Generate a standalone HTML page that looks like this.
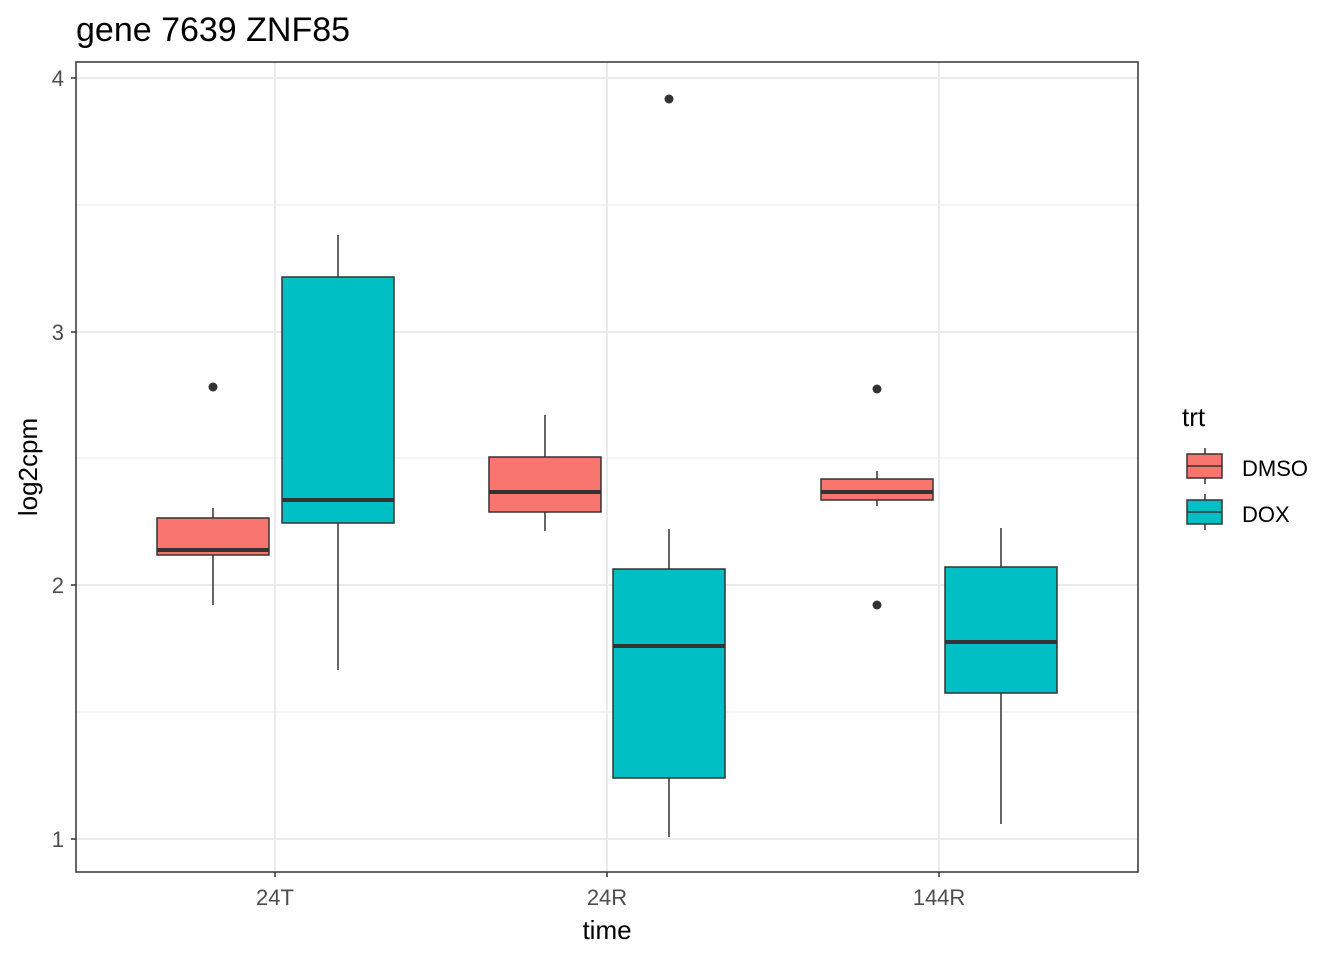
<!DOCTYPE html>
<html><head><meta charset="utf-8"><style>body{margin:0;background:#fff}</style></head><body>
<svg width="1344" height="960" xmlns="http://www.w3.org/2000/svg" font-family="Liberation Sans, sans-serif">
<rect width="1344" height="960" fill="#fff"/>
<g stroke="#ebebeb" stroke-width="1">
<line x1="76" x2="1138" y1="205" y2="205"/><line x1="76" x2="1138" y1="458" y2="458"/><line x1="76" x2="1138" y1="712" y2="712"/>
</g>
<g stroke="#ebebeb" stroke-width="2">
<line x1="76" x2="1138" y1="78" y2="78"/><line x1="76" x2="1138" y1="332" y2="332"/><line x1="76" x2="1138" y1="585" y2="585"/><line x1="76" x2="1138" y1="839" y2="839"/>
<line x1="275" x2="275" y1="62" y2="872"/><line x1="607" x2="607" y1="62" y2="872"/><line x1="939" x2="939" y1="62" y2="872"/>
</g>
<g stroke="#333" stroke-width="1.5">
<line x1="213" x2="213" y1="508" y2="605"/><rect x="157" y="518" width="112" height="37" fill="#F8766D"/><line x1="157" x2="269" y1="550" y2="550" stroke-width="4"/>
<line x1="338" x2="338" y1="235" y2="670"/><rect x="282" y="277" width="112" height="246" fill="#00BFC4"/><line x1="282" x2="394" y1="500" y2="500" stroke-width="4"/>
<line x1="545" x2="545" y1="415" y2="531"/><rect x="489" y="457" width="112" height="55" fill="#F8766D"/><line x1="489" x2="601" y1="492" y2="492" stroke-width="4"/>
<line x1="669" x2="669" y1="529" y2="837"/><rect x="613" y="569" width="112" height="209" fill="#00BFC4"/><line x1="613" x2="725" y1="646" y2="646" stroke-width="4"/>
<line x1="877" x2="877" y1="471" y2="506"/><rect x="821" y="479" width="112" height="21" fill="#F8766D"/><line x1="821" x2="933" y1="492" y2="492" stroke-width="4"/>
<line x1="1001" x2="1001" y1="528" y2="824"/><rect x="945" y="567" width="112" height="126" fill="#00BFC4"/><line x1="945" x2="1057" y1="642" y2="642" stroke-width="4"/>
</g>
<g fill="#333"><circle cx="213" cy="387" r="4.5"/><circle cx="669" cy="99" r="4.5"/><circle cx="877" cy="389" r="4.5"/><circle cx="877" cy="605" r="4.5"/></g>
<rect x="76" y="62" width="1062" height="810" fill="none" stroke="#333" stroke-width="1.5"/>
<g stroke="#333" stroke-width="1.5">
<line x1="71" x2="76" y1="78" y2="78"/><line x1="71" x2="76" y1="332" y2="332"/><line x1="71" x2="76" y1="585" y2="585"/><line x1="71" x2="76" y1="839" y2="839"/>
<line x1="275" x2="275" y1="872" y2="877"/><line x1="607" x2="607" y1="872" y2="877"/><line x1="939" x2="939" y1="872" y2="877"/>
</g>
<g fill="#4d4d4d" font-size="22" text-anchor="end">
<text x="64" y="86">4</text><text x="64" y="340">3</text><text x="64" y="593">2</text><text x="64" y="847">1</text>
</g>
<g fill="#4d4d4d" font-size="22" text-anchor="middle">
<text x="275" y="905">24T</text><text x="607" y="905">24R</text><text x="939" y="905">144R</text>
</g>
<text x="607" y="939" font-size="26" text-anchor="middle">time</text>
<text transform="translate(37,467) rotate(-90)" font-size="26" text-anchor="middle">log2cpm</text>
<text x="76" y="41" font-size="34">gene 7639 ZNF85</text>
<text x="1182" y="426" font-size="26">trt</text>
<g stroke="#333" stroke-width="1.5">
<line x1="1205" x2="1205" y1="448" y2="484"/><rect x="1187" y="454" width="35" height="24" fill="#F8766D"/><line x1="1187" x2="1222" y1="466" y2="466"/>
<line x1="1205" x2="1205" y1="494" y2="530"/><rect x="1187" y="500" width="35" height="24" fill="#00BFC4"/><line x1="1187" x2="1222" y1="512" y2="512"/>
</g>
<text x="1242" y="476" font-size="22">DMSO</text>
<text x="1242" y="522" font-size="22">DOX</text>
</svg>
</body></html>
